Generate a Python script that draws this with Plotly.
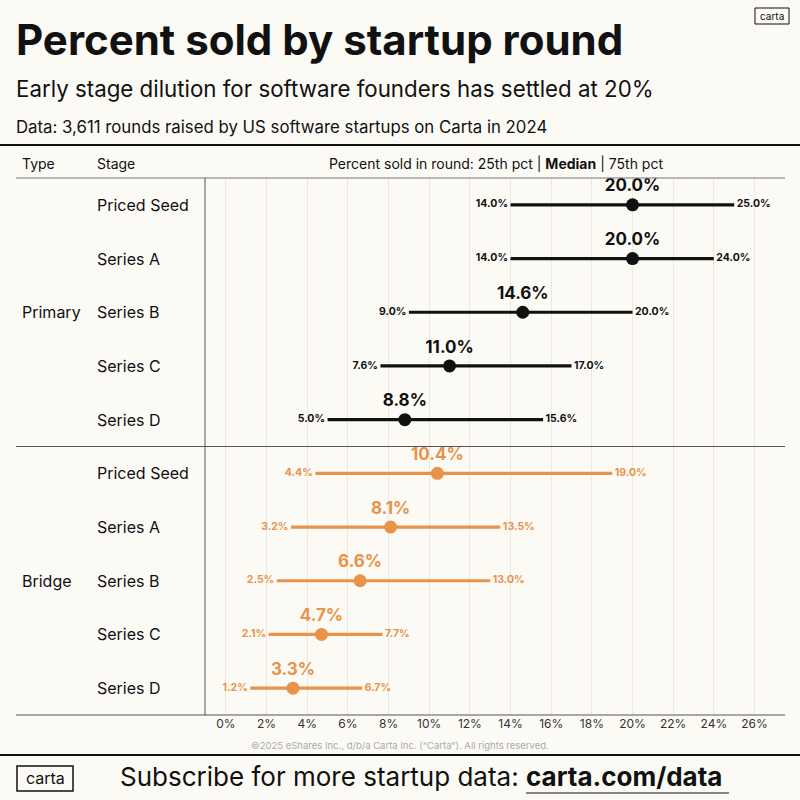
import plotly.graph_objects as go

types = ["Primary", "Bridge"]
stages = ["Priced Seed", "Series A", "Series B", "Series C", "Series D"]
p25 = [14.0, 14.0, 9.0, 7.6, 5.0, 4.4, 3.2, 2.5, 2.1, 1.2]
median = [20.0, 20.0, 14.6, 11.0, 8.8, 10.4, 8.1, 6.6, 4.7, 3.3]
p75 = [25.0, 24.0, 20.0, 17.0, 15.6, 19.0, 13.5, 13.0, 7.7, 6.7]
ticks = list(range(0, 27, 2))

BG = "#fcfaf5"
BLACK = "#111111"
ORANGE = "#e8924a"
FONT = "Inter"

L, R, T, B = 205, 15, 178, 85
W = H = 800
PW, PH = W - L - R, H - T - B

def px(x):  # pixel x -> paper
    return (x - L) / PW

def py(y):  # pixel y -> paper
    return 1 - (y - T) / PH

fig = go.Figure()
for i in range(10):
    c = BLACK if i < 5 else ORANGE
    fig.add_trace(go.Scatter(x=[p25[i], p75[i]], y=[i, i], mode="lines+text",
                             line=dict(color=c, width=3.2),
                             text=[f"{p25[i]:.1f}% ", f" {p75[i]:.1f}%"],
                             textposition=["middle left", "middle right"],
                             textfont=dict(family=FONT, size=10.5, color=c, weight="bold"),
                             hoverinfo="skip", showlegend=False))
    fig.add_trace(go.Scatter(x=[median[i]], y=[i], mode="markers+text",
                             marker=dict(color=c, size=13),
                             text=[f"{median[i]:.1f}%"], textposition="top center",
                             textfont=dict(family=FONT, size=17, color=c, weight="bold"),
                             hoverinfo="skip", showlegend=False))

ann = []
for i in range(10):
    ann.append(dict(x=px(95), y=i, xref="paper", yref="y", text=stages[i % 5],
                    showarrow=False, xanchor="left", font=dict(family=FONT, size=16, color=BLACK)))
for j, t in enumerate(types):
    ann.append(dict(x=px(20), y=2 + 5 * j, xref="paper", yref="y", text=t,
                    showarrow=False, xanchor="left", font=dict(family=FONT, size=16, color=BLACK)))

def txt(x, y, s, size, anchor="left", weight="normal", color=BLACK):
    ann.append(dict(x=px(x), y=py(y), xref="paper", yref="paper", text=s, showarrow=False,
                    xanchor=anchor, yanchor="middle",
                    font=dict(family=FONT, size=size, color=color, weight=weight)))

txt(14, 40, "Percent sold by startup round", 42, weight="bold")
txt(14, 88, "Early stage dilution for software founders has settled at 20%", 22.3)
txt(14, 127, "Data: 3,611 rounds raised by US software startups on Carta in 2024", 16.8)
txt(20, 164, "Type", 14)
txt(95, 164, "Stage", 14)
txt(496, 164, "Percent sold in round: 25th pct | <b>Median</b> | 75th pct", 14, anchor="center")
txt(400, 745, "©2025 eShares Inc., d/b/a Carta Inc. (“Carta”). All rights reserved.", 9.5,
    anchor="center", color="#aaaaaa")
txt(118, 776, "Subscribe for more startup data: <b>carta.com/data</b>", 26)
txt(45, 778, "carta", 16, anchor="center")
txt(772, 16, "carta", 10, anchor="center")

shapes = [
    dict(type="line", xref="paper", yref="paper", x0=px(0), x1=px(800), y0=py(145), y1=py(145),
         line=dict(color=BLACK, width=2)),
    dict(type="line", xref="paper", yref="paper", x0=px(16), x1=px(785), y0=1, y1=1,
         line=dict(color="#777777", width=1)),
    dict(type="line", xref="paper", yref="y", x0=px(16), x1=1, y0=4.5, y1=4.5,
         line=dict(color="#555555", width=1)),
    dict(type="line", xref="paper", yref="paper", x0=px(16), x1=1, y0=0, y1=0,
         line=dict(color="#555555", width=1)),
    dict(type="line", xref="paper", yref="paper", x0=0, x1=0, y0=0, y1=1,
         line=dict(color="#555555", width=1)),
    dict(type="line", xref="paper", yref="paper", x0=px(0), x1=px(800), y0=py(755), y1=py(755),
         line=dict(color=BLACK, width=2)),
    dict(type="rect", xref="paper", yref="paper", x0=px(17), x1=px(73), y0=py(766), y1=py(791),
         line=dict(color=BLACK, width=1.5)),
    dict(type="rect", xref="paper", yref="paper", x0=px(755), x1=px(789), y0=py(8), y1=py(24),
         line=dict(color=BLACK, width=1)),
    dict(type="line", xref="paper", yref="paper", x0=px(526), x1=px(729), y0=py(793), y1=py(793),
         line=dict(color=BLACK, width=1)),
]

fig.update_layout(
    width=W, height=H, margin=dict(l=L, r=R, t=T, b=B),
    paper_bgcolor=BG, plot_bgcolor=BG,
    xaxis=dict(range=[-1.03, 27.5], tickvals=ticks, ticktext=[f"{t}%" for t in ticks],
               showgrid=True, gridcolor="#ece8e0", zeroline=False,
               tickfont=dict(family=FONT, size=12, color="#333333"), ticks="", fixedrange=True),
    yaxis=dict(range=[9.5, -0.5], showticklabels=False, showgrid=False, zeroline=False),
    annotations=ann, shapes=shapes,
)
fig.write_html("out.html", config={"displayModeBar": False},
               post_script="document.body.style.margin='0';document.body.style.overflow='hidden';")
